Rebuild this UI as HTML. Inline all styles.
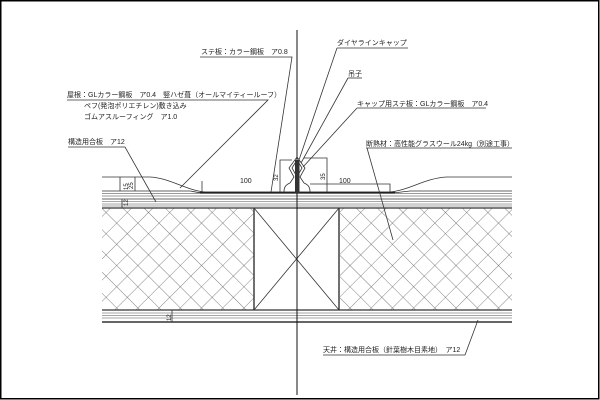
<!DOCTYPE html>
<html><head><meta charset="utf-8"><style>
html,body{margin:0;padding:0;background:#fff;}
svg{display:block;}
text{font-family:"Liberation Sans","Noto Sans CJK JP",sans-serif;font-size:7px;fill:#222;}
</style></head><body>
<svg width="600" height="400" viewBox="0 0 600 400" xmlns="http://www.w3.org/2000/svg">
<defs>
<pattern id="h" width="15" height="15" patternUnits="userSpaceOnUse" patternTransform="rotate(45)">
<path d="M0 0H15M0 0V15" stroke="#555" stroke-width="0.7" fill="none"/>
</pattern>
</defs>
<rect x="0.75" y="0.75" width="598" height="398" fill="none" stroke="#000" stroke-width="1.5"/>
<rect x="102" y="208" width="152" height="102" fill="url(#h)"/>
<rect x="340" y="208" width="172" height="102" fill="url(#h)"/>
<g stroke="#333" stroke-width="0.8" fill="none">
<line x1="254" y1="208" x2="254" y2="310" stroke-width="1.4"/>
<line x1="339" y1="208" x2="339" y2="310" stroke-width="1.4"/>
<line x1="254" y1="208" x2="339" y2="310"/>
<line x1="339" y1="208" x2="254" y2="310"/>
<path d="M102 177 H150 C170 178 185 190 205 192 H390 C410 190 425 178 447 177 H512"/>
<path d="M102 191 H190 C196 192 200 193 205 193 H390 C395 193 400 192 410 191 H512"/>
<line x1="102" y1="193.5" x2="512" y2="193.5" stroke="#777"/>
<line x1="102" y1="196" x2="512" y2="196" stroke="#777"/>
<line x1="102" y1="199" x2="512" y2="199"/>
<line x1="102" y1="201.5" x2="512" y2="201.5" stroke="#888"/>
<line x1="102" y1="204" x2="512" y2="204" stroke="#888"/>
<line x1="102" y1="206" x2="512" y2="206" stroke="#888"/>
<line x1="102" y1="208" x2="512" y2="208" stroke-width="1.2"/>
<line x1="200" y1="192.5" x2="395" y2="192.5" stroke="#222" stroke-width="1.6"/>
<line x1="102" y1="310" x2="512" y2="310" stroke-width="1.2"/>
<line x1="102" y1="313" x2="512" y2="313" stroke="#888"/>
<line x1="102" y1="315.5" x2="512" y2="315.5" stroke="#888"/>
<line x1="102" y1="318" x2="512" y2="318" stroke="#888"/>
<line x1="102" y1="322" x2="512" y2="322" stroke-width="1.4"/>
<line x1="297" y1="30" x2="297" y2="395" stroke="#111" stroke-width="1"/>
<rect x="295" y="160" width="4.5" height="33" fill="#333" stroke="none"/>
<path d="M297 157 L289 168 L294 177 L290 183 M297 157 L305 168 L300 177 L304 183"/>
<path d="M297 160 L292 168 L296 175 M297 160 L302 168 L298 175"/>
<path d="M290 183 C285 185 284 188 284 192 M304 183 C309 185 310 188 310 192"/>
<polyline points="292,160 280,160 280,192"/>
<polyline points="304,158 327,158 327,192"/>
<polyline points="202,181 202,192 M202,184 280,184" />
<polyline points="310,184 390,184 390,192"/>
<line x1="120" y1="177" x2="120" y2="191"/>
<line x1="135" y1="177" x2="135" y2="191"/>
<line x1="122" y1="199" x2="122" y2="208"/>
<line x1="172" y1="310" x2="172" y2="322"/>
<polyline points="200,57 292,57 271,192"/>
<polyline points="67,100 268,100 180,188"/>
<polyline points="68,147 125,147 156,202"/>
<polyline points="337,48 408,48"/><line x1="337" y1="48" x2="299" y2="160"/>
<polyline points="348,78 362,78"/><line x1="348" y1="78" x2="301" y2="163"/>
<polyline points="357,108 486,108"/><line x1="357" y1="108" x2="303" y2="167"/>
<polyline points="366,148 512,148"/><line x1="367" y1="148" x2="393" y2="240"/>
<polyline points="323,355 465,355 478,320"/>
</g>
<text x="201" y="54">ステ板：カラー鋼板　ア0.8</text>
<text x="67" y="97">屋根：GLカラー鋼板　ア0.4　竪ハゼ葺（オールマイティールーフ）</text>
<text x="84" y="108">ペフ(発泡ポリエチレン)敷き込み</text>
<text x="84" y="119">ゴムアスルーフィング　ア1.0</text>
<text x="68" y="144">構造用合板　ア12</text>
<text x="337" y="45">ダイヤラインキャップ</text>
<text x="348" y="76">吊子</text>
<text x="357" y="106">キャップ用ステ板：GLカラー鋼板　ア0.4</text>
<text x="366" y="146">断熱材：高性能グラスウール24kg（別途工事）</text>
<text x="323" y="352">天井：構造用合板（針葉樹木目素地）　ア12</text>
<text x="240" y="183">100</text>
<text x="339" y="183">100</text>
<text x="0" y="0" transform="translate(278,181) rotate(-90)" style="font-size:6px">32</text>
<text x="0" y="0" transform="translate(325,180) rotate(-90)" style="font-size:6px">35</text>
<text x="0" y="0" transform="translate(128,190) rotate(-90)" style="font-size:6px">15</text>
<text x="0" y="0" transform="translate(133,189) rotate(-90)" style="font-size:6px">25</text>
<text x="0" y="0" transform="translate(128,206) rotate(-90)" style="font-size:6px">12</text>
<text x="0" y="0" transform="translate(171,321) rotate(-90)" style="font-size:6px">12</text>
</svg>
</body></html>
